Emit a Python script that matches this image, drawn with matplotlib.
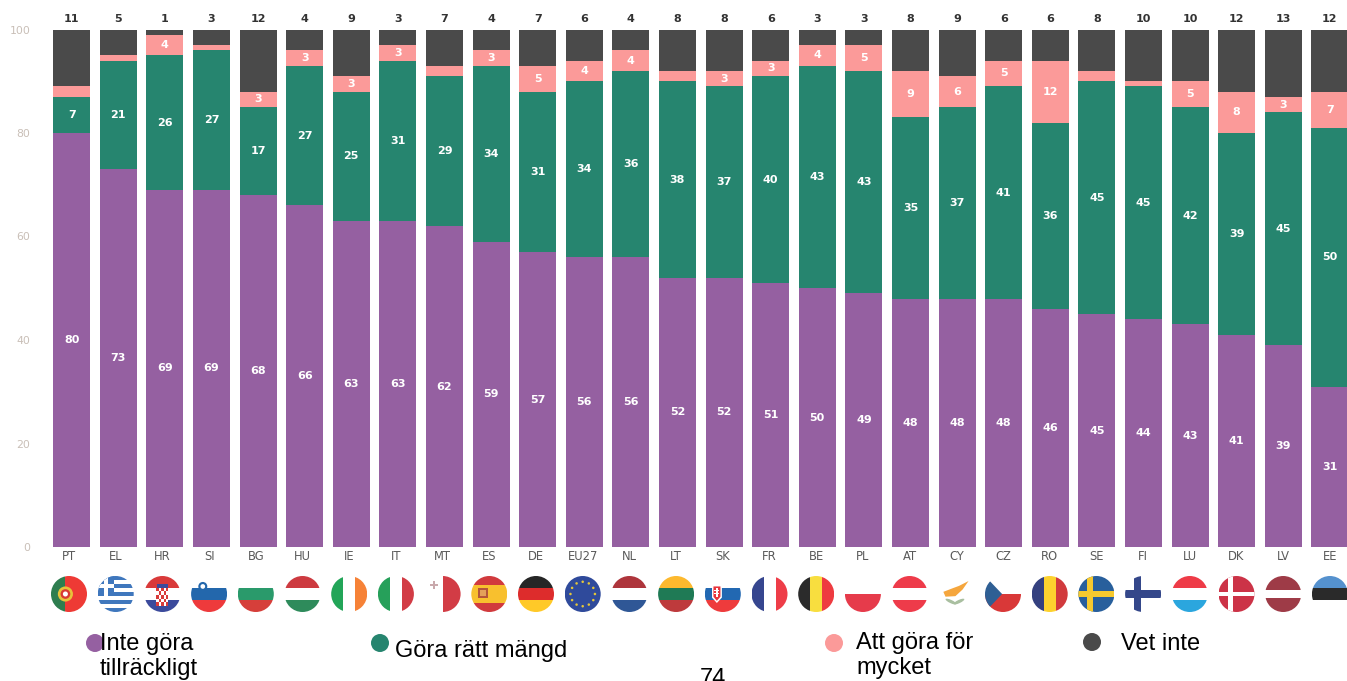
import math
import matplotlib
matplotlib.use("Agg")
import matplotlib.pyplot as plt
from matplotlib.patches import Circle, Rectangle, Polygon, Ellipse

categories = ["PT","EL","HR","SI","BG","HU","IE","IT","MT","ES","DE","EU27","NL","LT",
              "SK","FR","BE","PL","AT","CY","CZ","RO","SE","FI","LU","DK","LV","EE"]
not_enough = [80,73,69,69,68,66,63,63,62,59,57,56,56,52,52,51,50,49,48,48,48,46,45,44,43,41,39,31]
right_amount = [7,21,26,27,17,27,25,31,29,34,31,34,36,38,37,40,43,43,35,37,41,36,45,45,42,39,45,50]
too_much = [2,1,4,1,3,3,3,3,2,3,5,4,4,2,3,3,4,5,9,6,5,12,2,1,5,8,3,7]
dont_know = [11,5,1,3,12,4,9,3,7,4,7,6,4,8,8,6,3,3,8,9,6,6,8,10,10,12,13,12]
yticks = [0,20,40,60,80,100]

series = [not_enough, right_amount, too_much, dont_know]
colors = ["#9560A1", "#26856F", "#FB9A99", "#4A4A4A"]

W, H = 1347, 681
fig = plt.figure(figsize=(W/100, H/100), dpi=100, facecolor="white")

# ---- main bars
left_px, spacing = 48.4, 46.6
ax = fig.add_axes([left_px/W, (H-547)/H, 28*spacing/W, 517.5/H])
ax.set_xlim(-0.5, 27.5)
ax.set_ylim(0, 100)
for s in ax.spines.values():
    s.set_visible(False)
ax.set_yticks(yticks)
ax.set_xticks([])
ax.tick_params(axis="y", length=0, pad=13, labelsize=7.8, labelcolor="#C9BFB7")
for lab in ax.get_yticklabels():
    lab.set_fontfamily("DejaVu Sans")

bottom = [0]*len(categories)
for idx, (vals, col) in enumerate(zip(series, colors)):
    ax.bar(range(len(vals)), vals, bottom=bottom, width=0.79, color=col, linewidth=0)
    for i, v in enumerate(vals):
        if idx < 3 and v >= 3:
            ax.text(i, bottom[i]+v/2, str(v), ha="center", va="center", color="white",
                    fontsize=8, fontweight="bold")
        if idx == 3:
            ax.text(i, 102.0, str(v), ha="center", va="center", color="#333333",
                    fontsize=8, fontweight="bold", clip_on=False)
    bottom = [b+v for b, v in zip(bottom, vals)]

# ---- overlay in pixel coordinates
ov = fig.add_axes([0, 0, 1, 1], facecolor="none")
ov.set_xlim(0, W)
ov.set_ylim(H, 0)
ov.axis("off")

R = 18
FY = 594

STRIPES = {
    "PT": ("v", ["#2E7D4F", "#EE3A35"], [0.4, 0.6]),
    "EL": ("h", ["#3F77BD", "white"]*4 + ["#3F77BD"], None),
    "HR": ("h", ["#D93A3A", "white", "#3B4A9C"], None),
    "SI": ("h", ["white", "#2367AC", "#EE3A3C"], None),
    "BG": ("h", ["white", "#2A9A6B", "#D63F3A"], None),
    "HU": ("h", ["#CD3A40", "white", "#2E8B5B"], None),
    "IE": ("v", ["#22A558", "white", "#F68237"], None),
    "IT": ("v", ["#26A05A", "white", "#D23C45"], None),
    "MT": ("v", ["white", "#D23C45"], None),
    "ES": ("h", ["#D13A3D", "#F8C02E", "#F8C02E", "#D13A3D"], None),
    "DE": ("h", ["#262626", "#DD2C2C", "#FFC928"], None),
    "EU27": ("h", ["#2F4A9B"], None),
    "NL": ("h", ["#AE353C", "white", "#2F5796"], None),
    "LT": ("h", ["#FDB92E", "#1F7A55", "#BE3A3C"], None),
    "SK": ("h", ["white", "#2268B2", "#EE3B3C"], None),
    "FR": ("v", ["#36468F", "white", "#EE3D48"], None),
    "BE": ("v", ["#2B2B2B", "#F8DE3F", "#EE3B40"], None),
    "PL": ("h", ["white", "#E63B4B"], None),
    "AT": ("h", ["#EE3B4A", "white", "#EE3B4A"], None),
    "CY": ("h", ["white"], None),
    "CZ": ("h", ["white", "#D93838"], None),
    "RO": ("v", ["#34407F", "#FDD22E", "#D13A3D"], None),
    "SE": ("h", ["#285F9C"], None),
    "FI": ("h", ["white"], None),
    "LU": ("h", ["#EE3B47", "white", "#2BA6DE"], None),
    "DK": ("h", ["#CC3347"], None),
    "LV": ("h", ["#9E3B47", "white", "#9E3B47"], [0.4, 0.2, 0.4]),
    "EE": ("h", ["#5591CE", "#2A2A2A", "white"], None),
}


def flag(code, cx):
    clip = Circle((cx, FY), R, transform=ov.transData, facecolor="none", edgecolor="none")
    ov.add_patch(clip)
    parts = []

    def rect(x0, y0, w, h, c):
        parts.append(Rectangle((cx+x0*R, FY+y0*R), w*R, h*R, facecolor=c, edgecolor="none"))

    def poly(pts, c):
        parts.append(Polygon([(cx+a*R, FY+b*R) for a, b in pts], closed=True, facecolor=c, edgecolor="none"))

    def dot(a, b, r, c):
        parts.append(Circle((cx+a*R, FY+b*R), r*R, facecolor=c, edgecolor="none"))

    kind, cols, weights = STRIPES[code]
    weights = weights or [1/len(cols)]*len(cols)
    pos = -1.0
    for c, w in zip(cols, weights):
        if kind == "h":
            rect(-1, pos, 2, w*2, c)
        else:
            rect(pos, -1, w*2, 2, c)
        pos += w*2

    if code == "PT":
        dot(-0.2, 0, 0.42, "#E8C23A"); dot(-0.2, 0, 0.27, "#D93A35"); dot(-0.2, 0, 0.14, "white")
    elif code == "EL":
        rect(-1, -1, 0.9, 1.12, "#3F77BD"); rect(-1, -0.55, 0.9, 0.22, "white"); rect(-0.66, -1, 0.22, 1.12, "white")
    elif code == "HR":
        rect(-0.3, -0.55, 0.6, 0.2, "#3B4A9C")
        for r_ in range(5):
            for c_ in range(5):
                rect(-0.33+c_*0.132, -0.35+r_*0.2, 0.132, 0.2, "#D93A3A" if (r_+c_) % 2 == 0 else "white")
    elif code == "SI":
        dot(-0.35, -0.42, 0.25, "#2367AC"); dot(-0.35, -0.42, 0.13, "white")
    elif code == "MT":
        rect(-0.72, -0.58, 0.44, 0.12, "#C9A9AC"); rect(-0.56, -0.74, 0.12, 0.44, "#C9A9AC")
    elif code == "ES":
        rect(-0.62, -0.32, 0.55, 0.55, "#B4553A"); rect(-0.5, -0.2, 0.3, 0.3, "#E3A05A")
    elif code == "EU27":
        for k in range(12):
            t = 2*math.pi*k/12
            dot(0.68*math.cos(t), 0.68*math.sin(t), 0.07, "#E5C73A")
    elif code == "SK":
        poly([(-0.6, -0.5), (-0.05, -0.5), (-0.05, 0.2), (-0.33, 0.5), (-0.6, 0.2)], "white")
        poly([(-0.52, -0.42), (-0.13, -0.42), (-0.13, 0.15), (-0.33, 0.38), (-0.52, 0.15)], "#E8343C")
        rect(-0.37, -0.36, 0.09, 0.55, "white"); rect(-0.47, -0.22, 0.28, 0.08, "white"); rect(-0.47, -0.06, 0.28, 0.08, "white")
    elif code == "CY":
        poly([(-0.72, -0.12), (-0.2, -0.32), (0.15, -0.45), (0.68, -0.72), (0.35, -0.25), (-0.05, 0.12), (-0.6, 0.15)], "#F5A63D")
        parts.append(Ellipse((cx-0.3*R, FY+0.42*R), 0.65*R, 0.18*R, angle=25, facecolor="#A9BFA0", edgecolor="none"))
        parts.append(Ellipse((cx+0.15*R, FY+0.42*R), 0.65*R, 0.18*R, angle=-25, facecolor="#A9BFA0", edgecolor="none"))
    elif code == "CZ":
        poly([(-1, -1), (-0.05, 0), (-1, 1)], "#2F5F94")
    elif code == "SE":
        rect(-1, -0.16, 2, 0.32, "#F6C92E"); rect(-0.5, -1, 0.32, 2, "#F6C92E")
    elif code == "FI":
        rect(-1, -0.2, 2, 0.4, "#34478A"); rect(-0.5, -1, 0.4, 2, "#34478A")
    elif code == "DK":
        rect(-1, -0.12, 2, 0.24, "white"); rect(-0.45, -1, 0.24, 2, "white")

    for p in parts:
        ov.add_patch(p)
        p.set_clip_path(clip)


for i, code in enumerate(categories):
    cx = 69 + i*46.7
    flag(code, cx)
    ov.text(cx, 557, code, ha="center", va="center", fontsize=8.3, color="#5A5A5A",
            fontfamily="DejaVu Sans")

# ---- legend
legend_labels = ["Inte göra\ntillräckligt", "Göra rätt mängd", "Att göra för\nmycket", "Vet inte"]
legend_marks = [(95, 643), (380, 643), (834, 643), (1092, 642)]
legend_text = [(100, 633), (395, 640), (856, 632), (1121, 633)]
for lab, (mx, my), (tx, ty), col in zip(legend_labels, legend_marks, legend_text, colors):
    ov.add_patch(Circle((mx, my), 9, facecolor=col, edgecolor="none"))
    ov.text(tx, ty, lab, ha="left", va="top", fontsize=17, color="black",
            fontfamily="Liberation Sans", linespacing=1.17, clip_on=False)

ov.text(713, 668, "74", ha="center", va="top", fontsize=17, color="black",
        fontfamily="Liberation Sans")

fig.savefig("out.png", dpi=100)
